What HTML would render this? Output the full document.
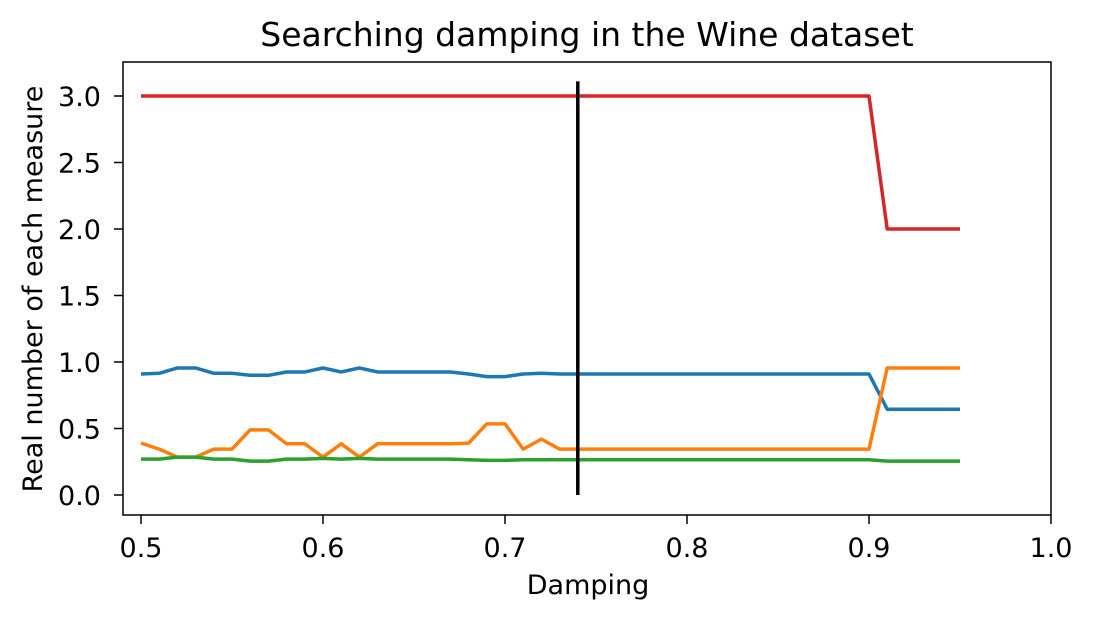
<!DOCTYPE html>
<html><head><meta charset="utf-8"><style>
body{margin:0;background:#fff;}
svg text{font-family:"DejaVu Sans","Liberation Sans",sans-serif;fill:#000;}
</style></head><body>
<svg id="chart" width="1095" height="622">
<rect width="1095" height="622" fill="#fff"/>
<g id="plot"></g>
</svg>
<script>
const xs=[];for(let i=0;i<46;i++)xs.push(+(0.5+i*0.01).toFixed(2));
const blue=[0.91,0.915,0.955,0.955,0.915,0.915,0.90,0.90,0.925,0.925,0.955,0.925,0.955,0.925,0.925,0.925,0.925,0.925,0.91,0.89,0.89,0.91,0.915,0.91,0.91,0.91,0.91,0.91,0.91,0.91,0.91,0.91,0.91,0.91,0.91,0.91,0.91,0.91,0.91,0.91,0.91,0.645,0.645,0.645,0.645,0.645];
const orange=[0.39,0.345,0.285,0.285,0.345,0.345,0.49,0.49,0.385,0.385,0.285,0.385,0.285,0.385,0.385,0.385,0.385,0.385,0.39,0.535,0.535,0.345,0.42,0.345,0.345,0.345,0.345,0.345,0.345,0.345,0.345,0.345,0.345,0.345,0.345,0.345,0.345,0.345,0.345,0.345,0.345,0.955,0.955,0.955,0.955,0.955];
const green=[0.27,0.27,0.285,0.285,0.27,0.27,0.255,0.255,0.27,0.27,0.275,0.27,0.275,0.27,0.27,0.27,0.27,0.27,0.265,0.26,0.26,0.265,0.265,0.265,0.265,0.265,0.265,0.265,0.265,0.265,0.265,0.265,0.265,0.265,0.265,0.265,0.265,0.265,0.265,0.265,0.265,0.255,0.255,0.255,0.255,0.255];
const red=[3,3,3,3,3,3,3,3,3,3,3,3,3,3,3,3,3,3,3,3,3,3,3,3,3,3,3,3,3,3,3,3,3,3,3,3,3,3,3,3,3,2,2,2,2,2];
const xTicks=[0.5,0.6,0.7,0.8,0.9,1.0];
const xTickLabels=["0.5","0.6","0.7","0.8","0.9","1.0"];
const yTicks=[0,0.5,1,1.5,2,2.5,3];
const yTickLabels=["0.0","0.5","1.0","1.5","2.0","2.5","3.0"];
const vline=[0.74,0,3.11];
const X=v=>141+(v-0.5)*1820, Y=v=>495-v*133;
const L=123,R=1051,T=62,B=515;
const g=document.getElementById('plot');const NS='http://www.w3.org/2000/svg';
function mk(t,a,p){const e=document.createElementNS(NS,t);for(const k in a)e.setAttribute(k,a[k]);(p||g).appendChild(e);return e;}
const series=[[blue,'#1f77b4','series-blue'],[orange,'#ff7f0e','series-orange'],[green,'#2ca02c','series-green'],[red,'#d62728','series-red']];
series.forEach(([d,c,n])=>{
 const e=mk('polyline',{points:d.map((v,i)=>X(xs[i])+','+Y(v)).join(' '),fill:'none',stroke:c,'stroke-width':3.5,'stroke-linejoin':'round'});
 
 
});
const vl=mk('line',{x1:X(vline[0]),x2:X(vline[0]),y1:Y(vline[1]),y2:Y(vline[2]),stroke:'#000','stroke-width':3.5});


const fr=mk('rect',{x:L,y:T,width:R-L,height:B-T,fill:'none',stroke:'#000','stroke-width':1.5});


xTicks.forEach((v,i)=>{mk('line',{x1:X(v),x2:X(v),y1:B,y2:B+9,stroke:'#000','stroke-width':1.5});
 const t=mk('text',{x:X(v),y:557,'text-anchor':'middle','font-size':27});t.textContent=xTickLabels[i];
 
 });
yTicks.forEach((v,i)=>{mk('line',{x1:L-9,x2:L,y1:Y(v),y2:Y(v),stroke:'#000','stroke-width':1.5});
 const t=mk('text',{x:L-22,y:Y(v)+10,'text-anchor':'end','font-size':27});t.textContent=yTickLabels[i];
 
 });
</script>
<svg width="1095" height="622" style="position:absolute;left:0;top:0">
<text x="587" y="46" text-anchor="middle" font-size="33">Searching damping in the Wine dataset</text>
<text x="588" y="594" text-anchor="middle" font-size="27">Damping</text>
<text transform="translate(42,289) rotate(-90)" text-anchor="middle" font-size="27">Real number of each measure</text>
</svg>
</body></html>
